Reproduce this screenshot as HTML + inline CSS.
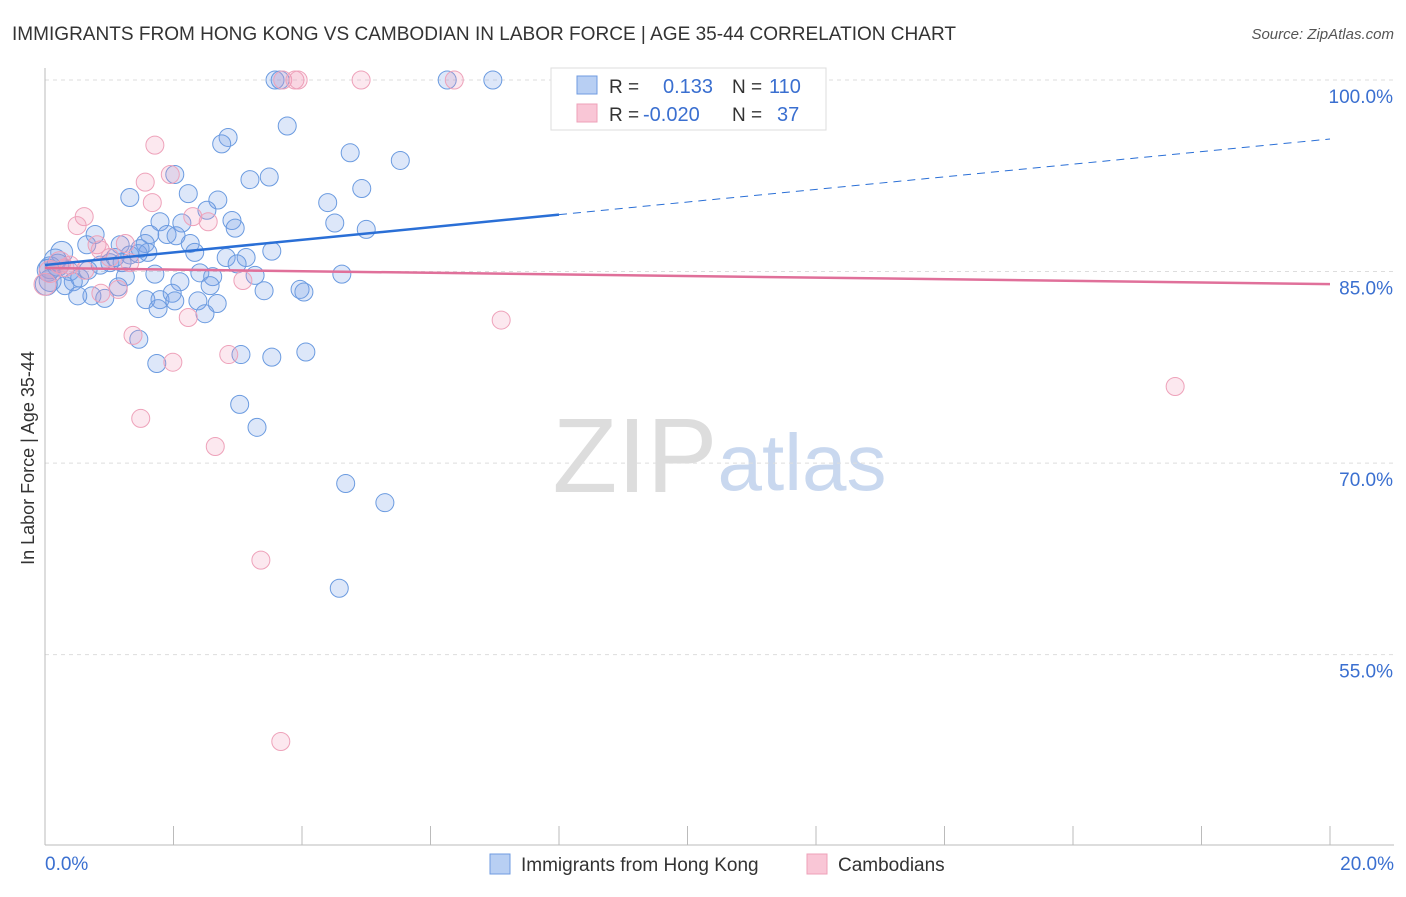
<!DOCTYPE html>
<html><head><meta charset="utf-8"><style>
body{margin:0;background:#fff;font-family:"Liberation Sans",sans-serif;}
svg text{font-family:"Liberation Sans",sans-serif;}
</style></head><body>
<svg id="chart" width="1406" height="892" xmlns="http://www.w3.org/2000/svg">
<text x="12" y="40" font-size="19" fill="#333" textLength="944" lengthAdjust="spacingAndGlyphs">IMMIGRANTS FROM HONG KONG VS CAMBODIAN IN LABOR FORCE | AGE 35-44 CORRELATION CHART</text>
<text x="1394" y="39" font-size="15" fill="#555" font-style="italic" text-anchor="end">Source: ZipAtlas.com</text>
<g>
<text x="635" y="492" font-size="106" fill="#ddd" font-family="Liberation Serif" text-anchor="middle">ZIP</text>
<text x="802" y="490" font-size="80" fill="#c9d8ef" text-anchor="middle">atlas</text>
</g>
<g id="grid"></g>
<g id="axes"></g>
<g id="marks"></g>
<g id="trends"></g>
<text transform="translate(34,458) rotate(-90)" font-size="18" fill="#333" text-anchor="middle">In Labor Force | Age 35-44</text>
<g>
<rect x="551" y="68" width="275" height="62" fill="#fff" stroke="#ddd"/>
<rect x="577" y="76" width="20" height="18" fill="#b8cff3" stroke="#6f9be0"/>
<rect x="577" y="104" width="20" height="18" fill="#f9c6d6" stroke="#eea0b8"/>
<text x="609" y="93" font-size="19" fill="#333">R = </text><text x="663" y="93" font-size="20" fill="#3a6fd0">0.133</text>
<text x="732" y="93" font-size="19" fill="#333">N = </text><text x="769" y="93" font-size="20" fill="#3a6fd0">110</text>
<text x="609" y="121" font-size="19" fill="#333">R = </text><text x="643" y="121" font-size="20" fill="#3a6fd0">-0.020</text>
<text x="732" y="121" font-size="19" fill="#333">N = </text><text x="777" y="121" font-size="20" fill="#3a6fd0">37</text>
</g>
<g>
<rect x="490" y="854" width="20" height="20" fill="#b8cff3" stroke="#6f9be0"/>
<text x="521" y="871" font-size="19" fill="#333">Immigrants from Hong Kong</text>
<rect x="807" y="854" width="20" height="20" fill="#f9c6d6" stroke="#eea0b8"/>
<text x="838" y="871" font-size="19" fill="#333">Cambodians</text>
</g>
</svg>
<script>
const xTicksLabels=["0.0%","20.0%"];
const yTickValues=[55,70,85,100];
const blueX=[3.58,3.66,6.26,6.97,2.85,2.75,3.77,4.75,5.53,2.02,3.19,3.49,1.32,2.23,2.69,2.52,4.40,4.93,4.51,5.00,1.79,2.13,2.91,2.96,1.63,1.90,2.26,2.33,0.78,0.65,0.26,1.17,1.56,1.60,1.32,1.45,2.82,3.13,3.53,2.99,3.27,4.62,0.86,1.01,0.16,0.08,0.39,0.54,0.44,1.25,1.71,2.41,2.61,2.10,2.57,1.14,0.73,0.93,1.57,1.79,1.98,2.02,1.76,2.38,2.68,2.49,3.41,3.97,4.03,1.46,1.74,3.05,3.53,4.06,3.03,3.30,4.68,5.29,4.58,0.05,0.08,0.20,0.31,0.51,0.67,1.09,1.20,1.48,2.04,0.02];
const blueY=[100,100,100,100,95.5,95.0,96.4,94.3,93.7,92.6,92.2,92.4,90.8,91.1,90.6,89.8,90.4,91.5,88.8,88.3,88.9,88.8,89.0,88.4,87.9,87.9,87.2,86.5,87.9,87.1,86.5,87.1,87.2,86.5,86.3,86.4,86.1,86.1,86.6,85.6,84.7,84.8,85.5,85.7,85.9,85.3,85.0,84.5,84.2,84.6,84.8,84.9,84.6,84.2,83.9,83.8,83.1,82.9,82.8,82.8,83.3,82.7,82.1,82.7,82.5,81.7,83.5,83.6,83.4,79.7,77.8,78.5,78.3,78.7,74.6,72.8,68.4,66.9,60.2,85.1,84.3,85.5,83.9,83.1,85.1,86.1,85.7,86.8,87.8,84.0];
const pinkX=[3.70,3.89,3.94,4.92,6.37,1.71,1.56,1.95,1.67,0.61,0.50,2.30,2.54,0.81,1.25,1.01,1.32,0.23,0.31,3.08,1.14,0.87,2.23,1.37,1.99,2.86,7.10,1.49,2.65,17.59,3.36,3.67,0.08,0.0,0.39,0.62,0.86];
const pinkY=[100,100,100,100,100,94.9,92.0,92.6,90.4,89.3,88.6,89.3,88.9,87.1,87.2,86.1,85.7,85.7,85.3,84.3,83.6,83.3,81.4,80.0,77.9,78.5,81.2,73.5,71.3,76.0,62.4,48.2,85.0,84.0,85.5,85.1,86.7];
const blueTrend=[85.51,95.38];
const pinkTrend=[85.28,84.02];
const NS="http://www.w3.org/2000/svg";
const X=v=>45+v/20*1285;
const Y=v=>80+(100-v)*12.77;
function mk(t,a,p){const e=document.createElementNS(NS,t);for(const k in a)e.setAttribute(k,a[k]);p.appendChild(e);return e;}
const grid=document.getElementById('grid'),axes=document.getElementById('axes'),marks=document.getElementById('marks'),trends=document.getElementById('trends');
yTickValues.forEach(v=>{
 const l=mk('line',{x1:45,x2:1394,y1:Y(v),y2:Y(v),stroke:'#ddd','stroke-dasharray':'4,4'},grid);
 
 
 const t=mk('text',{x:1393,y:Y(v)+23,'font-size':19,fill:'#3a6fd0','text-anchor':'end'},axes);
 t.textContent=v.toFixed(1)+'%';
 
 
});
mk('line',{x1:45,x2:45,y1:68,y2:845,stroke:'#bbb'},axes);
mk('line',{x1:45,x2:1394,y1:845,y2:845,stroke:'#bbb'},axes);
for(let i=0;i<=10;i++){const tk=mk('line',{x1:X(i*2),x2:X(i*2),y1:826,y2:845,stroke:'#bbb'},axes);
 
 }
const t0=mk('text',{x:45,y:870,'font-size':19,fill:'#3a6fd0'},axes);t0.textContent=xTicksLabels[0];


const t1=mk('text',{x:1394,y:870,'font-size':19,fill:'#3a6fd0','text-anchor':'end'},axes);t1.textContent=xTicksLabels[1];


blueX.forEach((x,i)=>{const c=mk('circle',{cx:X(x),cy:Y(blueY[i]),r:x<0.3?11:9,fill:'rgba(120,160,230,0.25)',stroke:'#6b9be0','stroke-width':1},marks);
 
 });
pinkX.forEach((x,i)=>{const c=mk('circle',{cx:X(x),cy:Y(pinkY[i]),r:x<0.3?11:9,fill:'rgba(240,150,180,0.22)',stroke:'#eea2ba','stroke-width':1},marks);
 
 });
const bt=v=>blueTrend[0]+(blueTrend[1]-blueTrend[0])*v/20;
const b1=mk('line',{x1:X(0),y1:Y(bt(0)),x2:X(8),y2:Y(bt(8)),stroke:'#2a6fd6','stroke-width':2.5},trends);


const b2=mk('line',{x1:X(8),y1:Y(bt(8)),x2:X(20),y2:Y(bt(20)),stroke:'#2a6fd6','stroke-width':1,'stroke-dasharray':'8,6'},trends);


const p1=mk('line',{x1:X(0),y1:Y(pinkTrend[0]),x2:X(20),y2:Y(pinkTrend[1]),stroke:'#e0709a','stroke-width':2.5},trends);


</script>
</body></html>
